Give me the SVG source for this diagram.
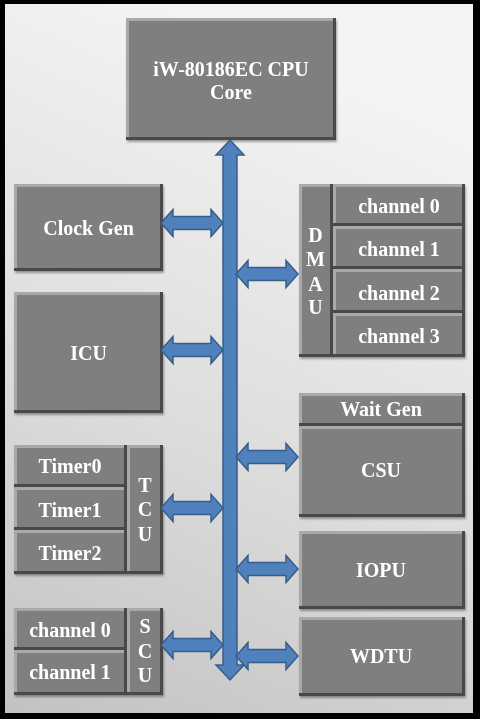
<svg xmlns="http://www.w3.org/2000/svg" xmlns:xlink="http://www.w3.org/1999/xlink" width="480" height="719" viewBox="0 0 480 719">
<style>
.lt{fill:#a9a9a9}
.dk{fill:#4a4a4a}
.md{fill:#7f7f7f}
.t{font-family:"Liberation Serif","Times New Roman",serif;font-weight:bold;font-size:20px;fill:#ffffff;text-anchor:middle}
.big{font-size:20px}
.arr{fill:#4f81bd;stroke:#385d8a;stroke-width:1.5;stroke-linejoin:miter}
.box{filter:url(#sh)}
</style>
<defs>
<linearGradient id="bg" x1="0.3" y1="0" x2="0" y2="1">
<stop offset="0" stop-color="#f3f3f3"/>
<stop offset="0.5" stop-color="#dedede"/>
<stop offset="1" stop-color="#c2c2c2"/>
</linearGradient>
<filter id="sh" x="-10%" y="-10%" width="120%" height="130%">
<feDropShadow dx="1" dy="2" stdDeviation="1.2" flood-color="#000" flood-opacity="0.35"/>
</filter>
<path id="ha" d="M0,0 L12,-13.5 L12,-6.5 L50,-6.5 L50,-13.5 L62,0 L50,13.5 L50,6.5 L12,6.5 L12,13.5 Z"/>
</defs>
<rect x="0" y="0" width="480" height="719" fill="#000000"/>
<rect x="5" y="4" width="468" height="709" fill="url(#bg)"/>

<g id="cpu" class="box"><rect class="dk" x="126" y="18" width="210" height="122"/><rect class="lt" x="126" y="18" width="207" height="119"/><rect class="md" x="129" y="21" width="204" height="116"/><text class="t big" x="231" y="76">iW-80186EC CPU</text><text class="t big" x="231" y="99">Core</text></g>

<g id="clockgen" class="box"><rect class="dk" x="14" y="184" width="149" height="87"/><rect class="lt" x="14" y="184" width="146" height="84"/><rect class="md" x="17" y="187" width="143" height="81"/><text class="t" x="88.5" y="235">Clock Gen</text></g>

<g id="icu" class="box"><rect class="dk" x="14" y="292" width="149" height="121"/><rect class="lt" x="14" y="292" width="146" height="118"/><rect class="md" x="17" y="295" width="143" height="115"/><text class="t" x="88.5" y="360">ICU</text></g>

<g id="dmau" class="box">
<rect class="dk" x="299" y="184" width="34" height="173"/><rect class="lt" x="299" y="184" width="31" height="170"/><rect class="md" x="302" y="187" width="28" height="167"/>
<text class="t" x="315.5" y="242">D</text><text class="t" x="315.5" y="266">M</text><text class="t" x="315.5" y="291">A</text><text class="t" x="315.5" y="314">U</text>
<rect class="dk" x="333" y="184" width="132" height="42"/><rect class="lt" x="333" y="184" width="129" height="39"/><rect class="md" x="336" y="187" width="126" height="36"/><text class="t" x="399" y="213">channel 0</text>
<rect class="dk" x="333" y="226" width="132" height="43"/><rect class="lt" x="333" y="226" width="129" height="40"/><rect class="md" x="336" y="229" width="126" height="37"/><text class="t" x="399" y="256">channel 1</text>
<rect class="dk" x="333" y="269" width="132" height="44"/><rect class="lt" x="333" y="269" width="129" height="41"/><rect class="md" x="336" y="272" width="126" height="38"/><text class="t" x="399" y="300">channel 2</text>
<rect class="dk" x="333" y="313" width="132" height="44"/><rect class="lt" x="333" y="313" width="129" height="41"/><rect class="md" x="336" y="316" width="126" height="38"/><text class="t" x="399" y="343">channel 3</text>
</g>

<g id="tcu" class="box">
<rect class="dk" x="14" y="445" width="113" height="42"/><rect class="lt" x="14" y="445" width="110" height="39"/><rect class="md" x="17" y="448" width="107" height="36"/><text class="t" x="70" y="473">Timer0</text>
<rect class="dk" x="14" y="487" width="113" height="43"/><rect class="lt" x="14" y="487" width="110" height="40"/><rect class="md" x="17" y="490" width="107" height="37"/><text class="t" x="70" y="517">Timer1</text>
<rect class="dk" x="14" y="530" width="113" height="44"/><rect class="lt" x="14" y="530" width="110" height="41"/><rect class="md" x="17" y="533" width="107" height="38"/><text class="t" x="70" y="560">Timer2</text>
<rect class="dk" x="127" y="445" width="36" height="129"/><rect class="lt" x="127" y="445" width="33" height="126"/><rect class="md" x="130" y="448" width="30" height="123"/>
<text class="t" x="145" y="492">T</text><text class="t" x="145" y="516">C</text><text class="t" x="145" y="541">U</text>
</g>

<g id="scu" class="box">
<rect class="dk" x="14" y="608" width="113" height="42"/><rect class="lt" x="14" y="608" width="110" height="39"/><rect class="md" x="17" y="611" width="107" height="36"/><text class="t" x="70" y="637">channel 0</text>
<rect class="dk" x="14" y="650" width="113" height="45"/><rect class="lt" x="14" y="650" width="110" height="42"/><rect class="md" x="17" y="653" width="107" height="39"/><text class="t" x="70" y="679">channel 1</text>
<rect class="dk" x="127" y="608" width="36" height="87"/><rect class="lt" x="127" y="608" width="33" height="84"/><rect class="md" x="130" y="611" width="30" height="81"/>
<text class="t" x="145" y="633">S</text><text class="t" x="145" y="658">C</text><text class="t" x="145" y="682">U</text>
</g>

<g id="csu" class="box">
<rect class="dk" x="299" y="393" width="166" height="33"/><rect class="lt" x="299" y="393" width="163" height="30"/><rect class="md" x="302" y="396" width="160" height="27"/><text class="t" x="381" y="416">Wait Gen</text>
<rect class="dk" x="299" y="426" width="166" height="91"/><rect class="lt" x="299" y="426" width="163" height="88"/><rect class="md" x="302" y="429" width="160" height="85"/><text class="t" x="381" y="477">CSU</text>
</g>

<g id="iopu" class="box"><rect class="dk" x="299" y="531" width="166" height="78"/><rect class="lt" x="299" y="531" width="163" height="75"/><rect class="md" x="302" y="534" width="160" height="72"/><text class="t" x="381" y="577">IOPU</text></g>

<g id="wdtu" class="box"><rect class="dk" x="299" y="617" width="166" height="79"/><rect class="lt" x="299" y="617" width="163" height="76"/><rect class="md" x="302" y="620" width="160" height="73"/><text class="t" x="381" y="663">WDTU</text></g>

<g id="connectors">
<path class="arr" d="M230,140 L244,155 L237,155 L237,665 L244,665 L230,680 L216,665 L223,665 L223,155 L216,155 Z"/>
<use class="arr" xlink:href="#ha" href="#ha" transform="translate(161,223)"/>
<use class="arr" xlink:href="#ha" href="#ha" transform="translate(161,350)"/>
<use class="arr" xlink:href="#ha" href="#ha" transform="translate(161,508)"/>
<use class="arr" xlink:href="#ha" href="#ha" transform="translate(161,645)"/>
<use class="arr" xlink:href="#ha" href="#ha" transform="translate(236,274)"/>
<use class="arr" xlink:href="#ha" href="#ha" transform="translate(236,457)"/>
<use class="arr" xlink:href="#ha" href="#ha" transform="translate(236,569)"/>
<use class="arr" xlink:href="#ha" href="#ha" transform="translate(236,656)"/>
</g>
</svg>
